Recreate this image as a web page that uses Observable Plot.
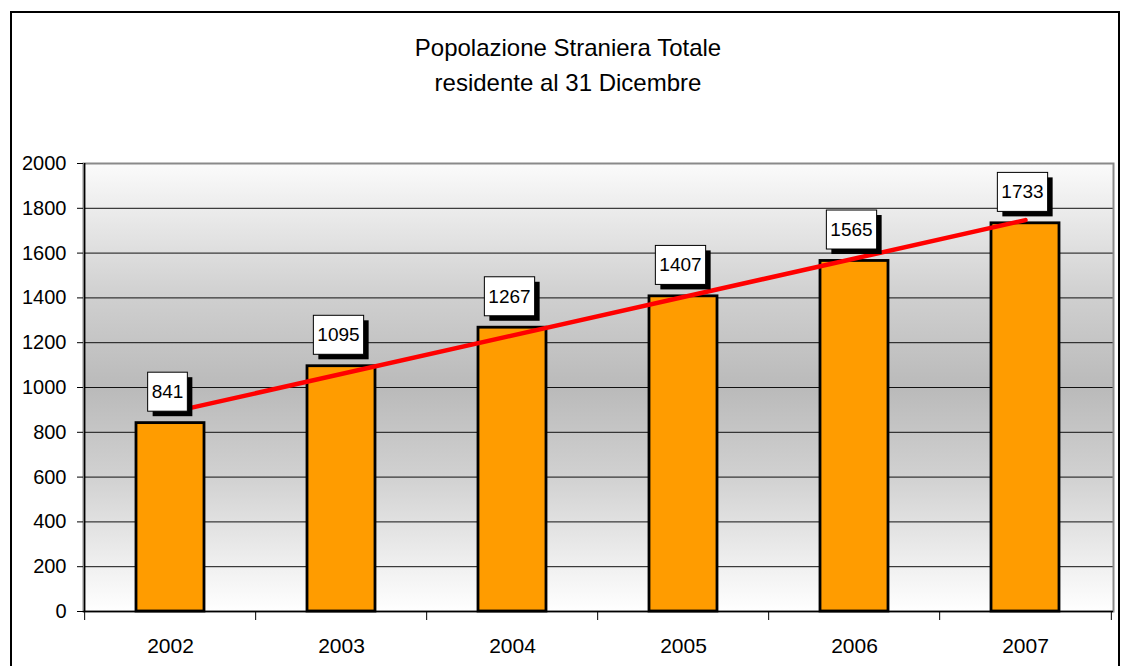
<!DOCTYPE html>
<html>
<head>
<meta charset="utf-8">
<script src="https://cdn.jsdelivr.net/npm/d3@7"></script>
<script src="https://cdn.jsdelivr.net/npm/@observablehq/plot@0.6"></script>
<style>
  html, body { margin: 0; padding: 0; background: #fff; overflow: hidden; }
  body { width: 1124px; height: 666px; position: relative; font-family: "Liberation Sans", Arial, sans-serif; }
  #frame { position: absolute; left: 10px; top: 11px; width: 1106px; height: 690px; border: 2.5px solid #000; }
  #title { position: absolute; left: 12px; top: 30px; width: 1112px; text-align: center;
           font-size: 24px; line-height: 35px; color: #000; }
  #chart { position: absolute; left: 0; top: 120px; }
</style>
</head>
<body>
<div id="frame"></div>
<div id="title">Popolazione Straniera Totale<br>residente al 31 Dicembre</div>
<div id="chart"></div>
<script>
// Foreign resident population at 31 December
const years = ["2002", "2003", "2004", "2005", "2006", "2007"];
const residents = [841, 1095, 1267, 1407, 1565, 1733];
const yTicks = [0, 200, 400, 600, 800, 1000, 1200, 1400, 1600, 1800, 2000];

const data = years.map((year, i) => ({year, value: residents[i]}));

// Least-squares trend line over the year index
const n = residents.length;
const meanX = (n - 1) / 2;
const meanY = d3.mean(residents);
const slope = d3.sum(residents, (v, i) => (i - meanX) * (v - meanY)) /
              d3.sum(residents, (v, i) => (i - meanX) ** 2);
const intercept = meanY - slope * meanX;
const trend = [0, n - 1].map(i => ({year: years[i], value: intercept + slope * i}));

const W = 1124, H = 546;
const mL = 83, mR = 11, mT = 43, mB = 55;
const step = (W - mL - mR) / years.length;

const svg = Plot.plot({
  width: W,
  height: H,
  marginLeft: mL,
  marginRight: mR,
  marginTop: mT,
  marginBottom: mB,
  style: {fontFamily: "'Liberation Sans', Arial, sans-serif", color: "#000", background: "transparent", overflow: "visible"},
  x: {type: "band", domain: years, paddingInner: 0.6, paddingOuter: 0.3, label: null},
  y: {domain: [0, 2000], label: null},
  marks: [
    Plot.frame({fill: "url(#plotBg)", stroke: "none"}),
    Plot.ruleY(yTicks.slice(1, -1), {stroke: "#111", strokeWidth: 1}),
    Plot.frame({stroke: "#8a8a8a", strokeWidth: 2}),
    Plot.ruleX([years[0]], {dx: -step / 2, stroke: "#000", strokeWidth: 1.5}),
    Plot.ruleY([0], {stroke: "#000", strokeWidth: 1.5}),
    Plot.axisY({ticks: yTicks, tickSize: 6, tickPadding: 11, fontSize: 20, tickFormat: d => String(d), label: null}),
    Plot.axisX({tickSize: 0, tickPadding: 27, fontSize: 21, label: null}),
    Plot.axisX({tickSize: 9, dx: -step / 2, tickFormat: () => "", label: null}),
    Plot.axisX({ticks: [years[years.length - 1]], tickSize: 9, dx: step / 2, tickFormat: () => "", label: null}),
    Plot.barY(data, {x: "year", y: "value", fill: "#ff9c00", stroke: "#000", strokeWidth: 2.8}),
    Plot.line(trend, {x: "year", y: "value", stroke: "#ff0000", strokeWidth: 4.5}),
    Plot.text(data, {x: "year", y: "value", text: d => String(d.value), dx: -3, dy: -31,
                     fontSize: 19, fill: "#000", lineAnchor: "middle"})
  ]
});

document.getElementById("chart").appendChild(svg);

// Vertical grey gradient for the plot background
const ns = "http://www.w3.org/2000/svg";
const defs = document.createElementNS(ns, "defs");
const grad = document.createElementNS(ns, "linearGradient");
grad.setAttribute("id", "plotBg");
grad.setAttribute("x1", "0"); grad.setAttribute("y1", "0");
grad.setAttribute("x2", "0"); grad.setAttribute("y2", "1");
[[0, "#fbfbfb"], [0.1, "#ececec"], [0.3, "#cfcfcf"], [0.5, "#bababa"],
 [0.7, "#d1d1d1"], [0.9, "#f0f0f0"], [1, "#ffffff"]].forEach(([o, c]) => {
  const s = document.createElementNS(ns, "stop");
  s.setAttribute("offset", o);
  s.setAttribute("stop-color", c);
  grad.appendChild(s);
});
defs.appendChild(grad);
svg.insertBefore(defs, svg.firstChild);

// Boxed value labels with a drop shadow
const labelGroup = svg.querySelector('g[aria-label="text"]');
if (labelGroup) {
  labelGroup.querySelectorAll("text").forEach(t => {
    const b = t.getBBox();
    const padX = 4, padY = 9;
    const x = b.x - padX, y = b.y - padY, w = b.width + 2 * padX, h = b.height + 2 * padY;
    const tf = t.getAttribute("transform") || "";
    const shadow = document.createElementNS(ns, "rect");
    shadow.setAttribute("x", x + 5); shadow.setAttribute("y", y + 5);
    shadow.setAttribute("width", w); shadow.setAttribute("height", h);
    shadow.setAttribute("fill", "#000");
    shadow.setAttribute("transform", tf);
    const box = document.createElementNS(ns, "rect");
    box.setAttribute("x", x); box.setAttribute("y", y);
    box.setAttribute("width", w); box.setAttribute("height", h);
    box.setAttribute("fill", "#fff"); box.setAttribute("stroke", "#000");
    box.setAttribute("stroke-width", 1);
    box.setAttribute("transform", tf);
    labelGroup.insertBefore(shadow, t);
    labelGroup.insertBefore(box, t);
  });
}
</script>
</body>
</html>
